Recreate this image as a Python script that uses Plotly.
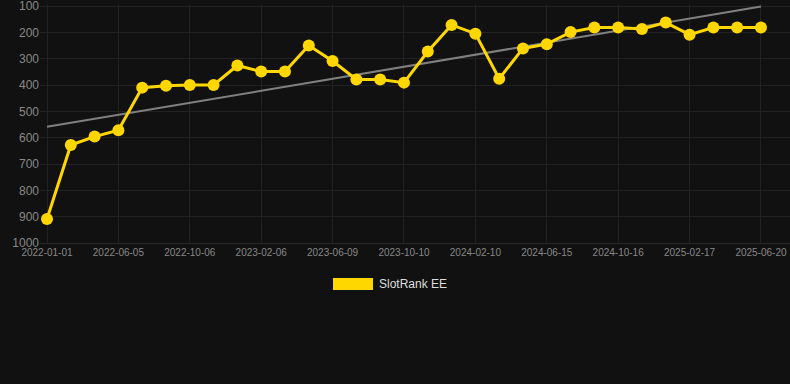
import numpy as np
import plotly.graph_objects as go

dates = ["2022-01-01", "2022-02-22", "2022-04-14", "2022-06-05", "2022-07-16", "2022-08-26",
         "2022-10-06", "2022-11-16", "2022-12-27", "2023-02-06", "2023-03-19", "2023-04-29",
         "2023-06-09", "2023-07-20", "2023-08-30", "2023-10-10", "2023-11-20", "2023-12-31",
         "2024-02-10", "2024-03-22", "2024-05-04", "2024-06-15", "2024-07-26", "2024-09-05",
         "2024-10-16", "2024-11-26", "2025-01-07", "2025-02-17", "2025-03-30", "2025-05-10",
         "2025-06-20"]
rank = [909, 628, 596, 572, 410, 403, 400, 400, 326, 349, 349, 250, 309, 379, 379, 391,
        273, 172, 205, 376, 261, 245, 199, 182, 182, 187, 163, 209, 182, 182, 182]
tick_labels = dates[::3]
y_ticks = [100, 200, 300, 400, 500, 600, 700, 800, 900, 1000]
series_name = "SlotRank EE"

idx = np.arange(len(rank))
slope, intercept = np.polyfit(idx, rank, 1)
trend = slope * idx + intercept

fig = go.Figure()
fig.add_trace(go.Scatter(x=dates, y=list(trend), mode="lines",
                         line=dict(color="#808080", width=2), showlegend=False, hoverinfo="skip"))
fig.add_trace(go.Scatter(x=dates, y=rank, mode="lines+markers", name=series_name,
                         line=dict(color="#FFD700", width=3),
                         marker=dict(color="#FFD700", size=12), showlegend=False))

top = 4
bottom_px = 243
plot_h = bottom_px - top
# legend drawn manually (wide rectangle swatch)
fig.add_shape(type="rect", xref="paper", yref="paper",
              x0=(333 - 40) / 750, x1=(373 - 40) / 750,
              y0=(bottom_px - 290) / plot_h, y1=(bottom_px - 278) / plot_h,
              fillcolor="#FFD700", line=dict(width=0))
fig.add_annotation(xref="paper", yref="paper", x=(377 - 40) / 750, y=(bottom_px - 284) / plot_h,
                   text=series_name, showarrow=False, xanchor="left", yanchor="middle",
                   font=dict(family="Liberation Sans, Arial, sans-serif", size=12, color="#DDDDDD"))

fig.update_layout(
    width=790, height=384,
    paper_bgcolor="#111111", plot_bgcolor="#111111",
    margin=dict(l=40, r=0, t=top, b=384 - bottom_px),
    showlegend=False,
    font=dict(family="Liberation Sans, Arial, sans-serif", color="#888888"),
)
fig.update_xaxes(type="category", range=[-0.294, 31.22],
                 tickmode="array", tickvals=tick_labels, ticktext=tick_labels,
                 showgrid=True, gridcolor="#222222", gridwidth=1,
                 showline=True, linecolor="#2a2a2a",
                 tickfont=dict(size=10, color="#888888"), ticks="", zeroline=False)
fig.update_yaxes(range=[1000, 92.4], tickmode="array", tickvals=y_ticks,
                 ticklabeloverflow="allow",
                 showgrid=True, gridcolor="#222222", gridwidth=1,
                 tickfont=dict(size=12, color="#888888"), ticks="", zeroline=False)

fig.write_html("out.html", config={"displayModeBar": False},
               post_script="document.body.style.margin='0';document.body.style.background='#111111';")
